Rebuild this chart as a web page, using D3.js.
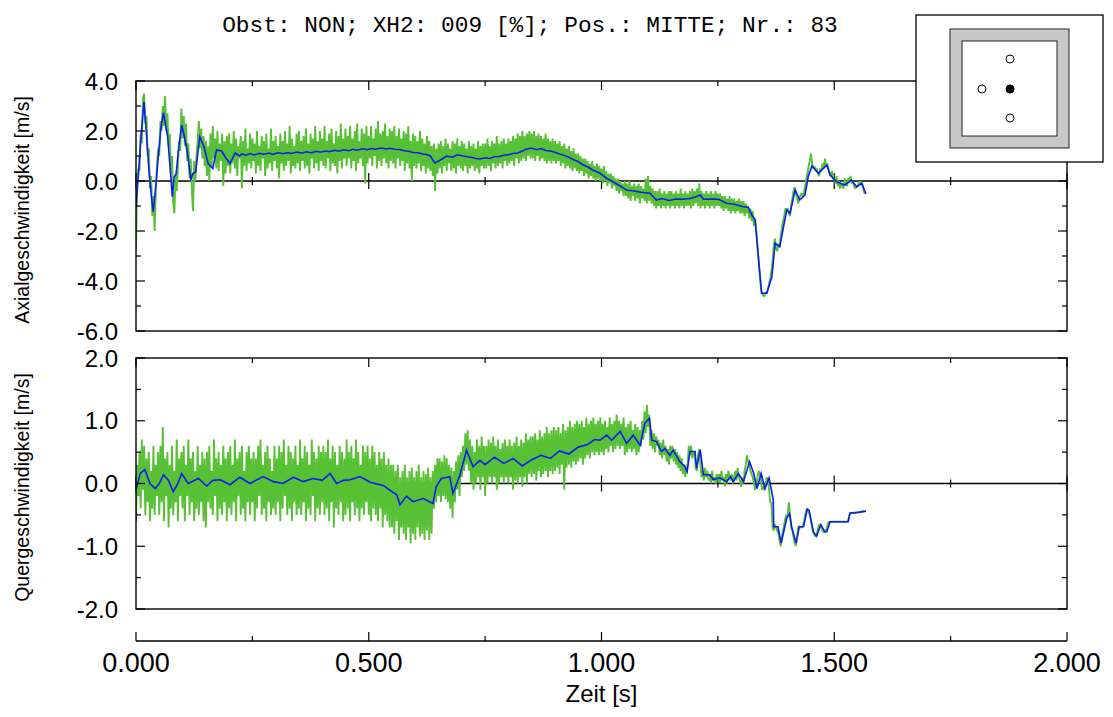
<!DOCTYPE html>
<html>
<head>
<meta charset="utf-8">
<script src="https://cdn.jsdelivr.net/npm/d3@7"></script>
<style>
  body { margin: 0; background: #fff; }
  svg { display: block; }
</style>
</head>
<body>
<svg id="chart" width="1113" height="717"></svg>
<script>
// ---- data -------------------------------------------------------------
const titleText = "Obst: NON; XH2: 009 [%]; Pos.: MITTE; Nr.: 83";
const xLabel = "Zeit [s]";
const axialLabel = "Axialgeschwindigkeit [m/s]";
const transverseLabel = "Quergeschwindigkeit [m/s]";

const sampleStep = 0.0025;          // s between raw samples
const xTickValues = [0, 0.5, 1.0, 1.5, 2.0];
const xMinorValues = [0.25, 0.75, 1.25, 1.75];
const axialTickValues = [4, 2, 0, -2, -4, -6];
const axialMinorValues = [3, 1, -1, -3, -5];
const transverseTickValues = [2, 1, 0, -1, -2];
const transverseMinorValues = [1.5, 0.5, -0.5, -1.5];

// raw axial velocity [m/s], one row per 0.05 s
const axialRaw = [
  -2.7,-0.1,0.5,0.4,1.9,1.5,3.3,3.5,2.3,2.6,1.0,1.3,-0.3,0.2,-1.4,-0.6,-2.0,-0.4,0.6,1.3,
  1.0,2.4,2.0,3.0,2.2,3.4,2.0,2.7,1.4,1.9,0.3,1.0,-0.9,-1.3,0.3,-0.4,0.6,1.6,1.2,2.9,
  1.7,2.6,1.4,2.3,0.8,1.5,0.1,0.9,-0.4,-1.2,0.8,0.0,1.0,1.6,2.4,1.3,2.1,0.9,1.8,0.6,
  1.6,0.2,1.4,0.0,1.9,0.6,2.2,0.9,1.7,0.5,2.0,0.4,1.5,0.8,1.9,-0.2,1.6,0.3,1.8,0.6,
  1.9,0.3,1.5,0.7,2.0,0.5,1.7,0.2,1.4,0.9,1.8,-0.3,1.6,0.6,2.1,0.4,1.3,0.7,1.9,0.5,
  1.7,0.8,1.5,0.3,2.0,0.6,1.4,0.4,1.8,0.9,1.6,0.2,1.9,0.5,1.3,0.7,2.1,0.4,1.6,0.8,
  1.8,0.5,1.4,0.1,1.9,0.7,1.6,0.4,2.0,0.6,1.5,0.8,2.2,0.3,1.7,0.6,1.4,0.5,1.9,0.7,
  2.0,0.4,1.6,0.8,1.8,0.5,2.1,0.6,1.5,0.3,1.9,0.9,1.7,0.5,2.2,0.7,1.6,0.4,2.0,0.8,
  1.7,0.6,2.2,0.5,1.6,0.9,1.9,0.4,2.1,0.7,1.5,0.6,2.0,0.3,1.8,0.8,2.3,0.5,1.7,0.9,
  2.1,0.6,1.8,0.9,2.2,0.5,1.7,0.8,2.0,0.4,2.3,0.7,1.6,0.9,2.1,0.6,1.9,-0.1,2.2,0.7,
  1.8,0.9,2.2,0.6,1.7,1.0,2.1,0.5,2.4,0.8,1.9,0.6,2.0,0.9,2.3,0.7,1.8,0.5,2.1,0.8,
  2.0,0.7,2.2,0.5,1.8,0.9,2.1,0.6,1.7,0.8,2.0,0.4,1.9,0.7,2.2,0.5,1.6,0.0,1.9,0.6,
  1.8,0.5,1.6,0.7,2.0,0.4,1.7,0.6,1.5,0.3,1.8,0.5,1.6,0.4,1.4,0.2,1.5,-0.4,1.3,0.3,
  1.5,0.5,1.6,0.3,1.4,0.6,1.7,0.4,1.5,0.7,1.3,0.4,1.6,0.5,1.5,0.3,1.7,0.6,1.4,0.5,
  1.6,0.4,1.5,0.6,1.3,0.3,1.6,0.5,1.4,0.6,1.5,0.4,1.3,0.5,1.6,0.3,1.4,0.6,1.5,0.5,
  1.5,0.5,1.7,0.6,1.4,0.4,1.6,0.7,1.5,0.5,1.8,0.6,1.5,0.7,1.6,0.5,1.7,0.8,1.5,0.6,
  1.7,0.7,1.6,0.8,1.8,0.6,1.7,0.9,1.9,0.7,1.8,0.8,2.0,0.9,1.8,0.8,1.9,1.0,2.0,0.9,
  1.9,0.9,2.0,0.8,1.8,1.0,1.9,0.8,1.8,0.9,1.7,0.8,1.9,0.7,1.7,0.8,1.6,0.7,1.7,0.8,
  1.6,0.7,1.5,0.8,1.6,0.6,1.4,0.7,1.5,0.5,1.3,0.6,1.4,0.5,1.2,0.4,1.3,0.5,1.1,0.4,
  1.1,0.3,1.0,0.4,0.9,0.2,0.9,0.3,0.8,0.1,0.7,0.2,0.8,0.1,0.6,0.0,0.7,0.1,0.6,0.0,
  0.5,-0.1,0.6,0.0,0.4,-0.2,0.3,-0.1,0.3,-0.3,0.2,-0.2,0.1,-0.4,0.1,-0.5,0.0,-0.4,-0.1,-0.6,
  0.0,-0.6,-0.1,-0.7,0.0,-0.8,-0.2,-0.6,-0.1,-0.8,-0.2,-0.7,-0.1,-0.9,-0.2,-0.7,-0.3,-0.8,0.1,-0.9,
  0.2,-0.8,-0.2,-0.9,-0.3,-1.0,-0.4,-1.1,-0.4,-1.0,-0.3,-1.1,-0.5,-1.0,-0.4,-1.1,-0.5,-1.0,-0.4,-1.1,
  -0.4,-1.0,-0.5,-1.1,-0.4,-1.0,-0.5,-1.1,-0.3,-1.0,-0.5,-1.1,-0.4,-1.0,-0.5,-1.0,-0.4,-1.1,-0.3,-1.0,
  -0.4,-0.9,-0.3,-1.0,-0.1,-1.1,-0.4,-1.0,-0.5,-1.1,-0.4,-1.0,-0.5,-1.1,-0.4,-1.0,-0.5,-1.1,-0.4,-1.0,
  -0.5,-1.0,-0.5,-1.1,-0.6,-1.2,-0.6,-1.1,-0.7,-1.2,-0.6,-1.3,-0.7,-1.2,-0.7,-1.3,-0.8,-1.2,-0.7,-1.3,
  -0.8,-1.3,-0.8,-1.4,-0.9,-1.3,-1.0,-1.5,-1.1,-1.6,-1.2,-1.8,-1.5,-2.0,-2.6,-3.2,-3.8,-4.3,-4.5,-4.6,
  -4.6,-4.45,-4.5,-4.35,-4.1,-3.9,-3.6,-3.2,-2.6,-2.3,-2.7,-2.8,-2.5,-2.6,-2.2,-1.9,-1.6,-1.4,-1.1,-1.2,
  -1.1,-1.3,-1.4,-1.0,-0.7,-0.4,-0.25,-0.5,-0.7,-0.9,-0.7,-0.55,-0.5,-0.65,-0.45,-0.2,0.1,0.3,0.6,0.8,
  1.1,0.7,0.5,0.6,0.4,0.5,0.3,0.2,0.5,0.4,0.7,0.5,0.9,0.6,0.7,0.5,0.3,0.2,0.4,0.1,
  0.1,-0.1,0.2,-0.2,0.0,-0.3,-0.1,-0.2,-0.3,0.1,-0.1,-0.2,0.1,0.0,0.2,-0.1,0.0,-0.2,-0.3,-0.2,
  -0.25,-0.1,0.0,-0.15,-0.1,-0.3,-0.5
];

// raw transverse velocity [m/s], one row per 0.05 s
const transverseRaw = [
  -0.6,0.3,-0.2,0.5,-0.4,0.7,-0.1,0.6,-0.5,0.4,-0.3,0.5,-0.6,0.2,-0.4,0.6,-0.5,0.3,-0.2,0.5,
  -0.5,0.6,-0.3,0.9,-0.6,0.4,-0.2,0.5,-0.7,0.3,-0.4,0.6,-0.5,0.2,-0.3,0.7,-0.6,0.4,-0.2,0.5,
  -0.4,0.6,-0.6,0.3,-0.2,0.7,-0.5,0.4,-0.3,0.5,-0.6,0.2,-0.4,0.6,-0.5,0.3,-0.3,0.5,-0.6,0.4,
  -0.7,0.5,-0.3,0.6,-0.4,0.2,-0.5,0.7,-0.2,0.4,-0.6,0.5,-0.4,0.3,-0.5,0.6,-0.3,0.4,-0.6,0.5,
  -0.4,0.6,-0.5,0.3,-0.3,0.7,-0.6,0.4,-0.2,0.5,-0.5,0.6,-0.4,0.2,-0.6,0.5,-0.3,0.6,-0.5,0.4,
  -0.3,0.5,-0.6,0.4,-0.4,0.6,-0.2,0.7,-0.5,0.3,-0.4,0.5,-0.6,0.6,-0.3,0.4,-0.5,0.2,-0.4,0.6,
  -0.5,0.4,-0.3,0.6,-0.6,0.5,-0.4,0.7,-0.2,0.3,-0.5,0.6,-0.4,0.5,-0.6,0.4,-0.3,0.6,-0.5,0.3,
  -0.4,0.7,-0.5,0.4,-0.3,0.6,-0.6,0.5,-0.4,0.3,-0.5,0.7,-0.2,0.5,-0.6,0.4,-0.4,0.6,-0.5,0.5,
  -0.3,0.6,-0.5,0.5,-0.4,0.7,-0.6,0.4,-0.3,0.6,-0.7,0.5,-0.4,0.3,-0.5,0.6,-0.3,0.5,-0.6,0.4,
  -0.5,0.7,-0.4,0.5,-0.6,0.6,-0.3,0.4,-0.5,0.7,-0.4,0.5,-0.6,0.3,-0.4,0.6,-0.5,0.5,-0.3,0.6,
  -0.5,0.4,-0.6,0.6,-0.4,0.5,-0.5,0.3,-0.6,0.5,-0.4,0.4,-0.7,0.5,-0.5,0.3,-0.6,0.4,-0.7,0.3,
  -0.7,0.3,-0.8,0.2,-0.6,0.3,-0.9,0.1,-0.7,0.2,-0.8,0.3,-0.9,0.1,-0.7,0.2,-0.95,0.25,-0.8,0.1,
  -0.9,0.2,-0.7,0.3,-0.85,0.1,-0.8,0.2,-0.9,0.15,-0.75,0.25,-0.9,0.1,-0.8,0.2,-0.4,0.3,-0.3,0.4,
  -0.2,0.4,-0.3,0.35,-0.2,0.45,-0.25,0.4,-0.3,0.3,-0.4,0.25,-0.55,0.2,-0.3,0.35,-0.1,0.45,-0.2,0.5,
  0.1,0.6,0.2,0.8,0.3,0.85,0.2,0.7,0.0,0.6,-0.1,0.5,0.0,0.7,0.1,0.6,-0.1,0.75,0.1,0.6,
  -0.2,0.6,0.0,0.7,0.1,0.65,0.0,0.75,0.1,0.6,-0.1,0.7,0.0,0.55,0.1,0.65,0.0,0.7,0.1,0.6,
  0.0,0.7,0.1,0.6,-0.1,0.65,0.05,0.75,0.0,0.6,0.1,0.7,-0.05,0.65,0.1,0.8,0.0,0.7,0.15,0.75,
  0.1,0.75,0.15,0.8,0.05,0.7,0.2,0.85,0.1,0.75,0.15,0.8,0.2,0.9,0.1,0.8,0.2,0.85,0.15,0.9,
  0.2,0.85,0.25,0.9,0.15,0.8,0.3,0.95,-0.1,0.85,0.25,0.9,0.3,1.0,0.25,0.9,0.35,0.95,0.3,1.0,
  0.35,0.95,0.4,1.0,0.3,0.9,0.4,1.05,0.45,0.95,0.4,1.0,0.5,1.05,0.45,0.95,0.5,1.0,0.45,1.05,
  0.5,0.95,0.45,1.0,0.55,0.9,0.5,1.05,0.6,0.95,0.5,1.0,0.55,1.1,0.6,1.0,0.55,0.95,0.6,1.05,
  0.45,0.9,0.5,0.95,0.55,1.0,0.5,0.85,0.55,0.95,0.45,0.9,0.5,0.85,0.6,1.0,0.7,1.15,0.8,1.25,
  0.9,1.1,0.6,0.85,0.55,0.8,0.5,0.75,0.6,0.7,0.45,0.65,0.4,0.7,0.45,0.6,0.35,0.55,0.3,0.6,
  0.4,0.6,0.35,0.55,0.3,0.5,0.25,0.45,0.2,0.4,0.15,0.3,0.1,0.25,0.3,0.6,0.45,0.6,0.4,0.5,
  0.5,0.25,0.2,0.45,0.55,0.3,0.1,0.2,0.05,0.25,0.1,0.2,0.05,0.15,0.0,0.2,0.05,0.1,0.0,0.15,
  0.05,0.15,0.0,0.2,0.05,0.1,-0.05,0.15,0.0,0.2,0.1,0.05,0.15,0.0,0.1,0.2,0.05,0.25,0.1,0.05,
  -0.05,0.1,0.0,0.2,0.3,0.45,0.35,0.3,0.2,0.15,0.1,0.0,-0.1,-0.05,0.1,0.2,0.15,0.05,-0.1,-0.05,
  -0.1,0.0,0.1,0.05,-0.1,-0.3,-0.3,-0.7,-0.75,-0.65,-0.7,-0.75,-0.8,-0.9,-1.0,-0.85,-0.75,-0.65,-0.55,-0.5,
  -0.5,-0.3,-0.5,-0.7,-0.75,-0.85,-0.95,-1.0,-0.85,-0.7,-0.68,-0.7,-0.7,-0.68,-0.6,-0.5,-0.42,-0.4,-0.45,-0.5,
  -0.6,-0.7,-0.78,-0.82,-0.85,-0.8,-0.72,-0.66,-0.65,-0.7,-0.75,-0.78,-0.77,-0.74,-0.68,-0.62,-0.61,-0.61,-0.61,-0.61,
  -0.61,-0.61,-0.61,-0.61,-0.61,-0.61,-0.61,-0.61,-0.61,-0.61,-0.61,-0.61,-0.58,-0.5,-0.47,-0.47,-0.47,-0.47,-0.47,-0.46,
  -0.46,-0.46,-0.45,-0.45,-0.45,-0.44,-0.44
];

// smoothed axial velocity: [time s, m/s]
const axialMean = [
  [0,-1.0],[0.005,0.2],[0.010,1.6],[0.017,3.17],[0.022,2.0],[0.028,0.4],[0.033,-0.6],
  [0.037,-1.23],[0.042,-0.3],[0.048,1.0],[0.054,2.2],[0.059,2.73],[0.064,2.2],[0.068,1.77],
  [0.073,0.6],[0.078,-0.63],[0.082,0.17],[0.086,0.25],[0.091,1.2],[0.098,2.24],[0.104,1.77],
  [0.110,1.2],[0.118,0.04],[0.122,0.3],[0.128,0.35],[0.137,1.77],[0.146,1.37],[0.155,0.7],
  [0.165,0.5],[0.173,1.24],[0.184,1.2],[0.192,0.95],[0.202,0.7],[0.213,1.12],[0.222,1.0],
  [0.228,1.08],[0.236,1.03],[0.245,1.1],[0.254,1.04],[0.266,1.11],[0.274,1.07],[0.286,1.12],
  [0.293,1.06],[0.305,1.13],[0.317,1.09],[0.326,1.14],[0.333,1.1],[0.347,1.16],[0.356,1.11],
  [0.366,1.17],[0.377,1.13],[0.388,1.19],[0.396,1.15],[0.407,1.2],[0.414,1.17],[0.427,1.23],
  [0.436,1.19],[0.446,1.25],[0.457,1.21],[0.466,1.27],[0.474,1.23],[0.487,1.29],[0.497,1.25],
  [0.506,1.3],[0.514,1.27],[0.527,1.32],[0.538,1.28],[0.546,1.31],[0.556,1.27],[0.566,1.26],
  [0.577,1.21],[0.586,1.19],[0.595,1.14],[0.606,1.13],[0.616,1.08],[0.625,1.06],[0.632,1.0],
  [0.642,0.72],[0.655,0.85],[0.667,1.0],[0.68,0.95],[0.69,1.05],[0.703,1.0],[0.712,0.97],
  [0.72,0.95],[0.73,0.9],[0.739,0.88],[0.75,0.93],[0.76,0.9],[0.77,0.97],[0.78,0.98],
  [0.79,1.03],[0.80,1.05],[0.81,1.1],[0.82,1.12],[0.83,1.2],[0.84,1.28],[0.85,1.32],[0.86,1.25],
  [0.87,1.3],[0.88,1.22],[0.89,1.2],[0.90,1.15],[0.91,1.08],[0.92,1.02],[0.93,0.95],[0.94,0.85],
  [0.95,0.77],[0.96,0.65],[0.97,0.57],[0.98,0.45],
  [0.997,0.31],[1.01,0.12],[1.025,-0.03],[1.04,-0.2],[1.054,-0.36],[1.07,-0.4],[1.085,-0.45],[1.104,-0.49],
  [1.118,-0.76],[1.13,-0.7],[1.145,-0.78],[1.16,-0.72],[1.175,-0.73],[1.19,-0.7],[1.2,-0.65],
  [1.212,-0.56],[1.219,-0.73],[1.235,-0.72],[1.251,-0.73],[1.269,-0.89],[1.285,-0.93],
  [1.305,-1.03],[1.315,-1.05],[1.323,-1.36],[1.33,-1.56],[1.344,-4.49],[1.355,-4.49],
  [1.366,-3.83],[1.373,-2.49],[1.383,-2.63],[1.391,-1.83],[1.398,-1.16],[1.405,-1.29],
  [1.416,-0.36],[1.426,-0.76],[1.437,-0.56],[1.444,0.17],[1.452,0.6],[1.466,0.31],
  [1.484,0.64],[1.491,0.24],[1.505,-0.03],[1.523,-0.16],[1.537,0.04],[1.548,-0.23],
  [1.559,-0.09],[1.568,-0.52]
];

// smoothed transverse velocity: [time s, m/s]
const transverseMean = [
  [0,-0.10],[0.009,0.16],[0.019,0.22],[0.030,0.0],[0.041,-0.08],[0.050,0.0],[0.059,0.14],
  [0.07,0.05],[0.080,-0.13],[0.09,0.0],[0.098,0.16],[0.112,0.0],[0.134,0.08],[0.152,-0.04],
  [0.165,0.05],[0.181,0.06],[0.202,-0.02],[0.223,0.10],[0.245,0.0],[0.273,0.11],[0.295,0.03],
  [0.316,0.0],[0.338,0.10],[0.359,0.03],[0.38,0.08],[0.40,0.05],[0.417,0.16],[0.431,0.0],
  [0.446,0.05],[0.460,0.06],[0.481,0.11],[0.503,0.02],[0.531,-0.03],[0.546,-0.11],
  [0.560,-0.18],[0.567,-0.34],[0.581,-0.20],[0.595,-0.29],[0.617,-0.24],[0.638,-0.32],
  [0.645,-0.05],[0.656,0.08],[0.674,0.11],[0.681,-0.16],[0.696,0.14],[0.710,0.53],
  [0.724,0.27],[0.739,0.37],[0.75,0.30],[0.77,0.42],[0.79,0.32],[0.81,0.40],[0.83,0.28],
  [0.85,0.38],[0.87,0.45],[0.89,0.40],[0.91,0.52],[0.93,0.47],[0.95,0.58],[0.97,0.62],
  [0.985,0.70],[0.997,0.69],[1.011,0.77],[1.022,0.69],[1.040,0.83],[1.054,0.64],[1.068,0.77],
  [1.083,0.61],[1.093,0.96],[1.103,1.04],[1.108,0.69],[1.118,0.67],[1.129,0.51],[1.136,0.56],
  [1.147,0.45],[1.154,0.53],[1.168,0.35],[1.179,0.27],[1.184,0.19],[1.190,0.51],[1.201,0.51],
  [1.204,0.24],[1.212,0.54],[1.219,0.14],[1.233,0.14],[1.240,0.06],[1.254,0.09],[1.269,0.03],
  [1.277,0.11],[1.283,0.03],[1.294,0.16],[1.305,0.03],[1.318,0.35],[1.327,0.16],[1.334,-0.08],
  [1.343,0.16],[1.351,-0.08],[1.360,0.09],[1.369,-0.26],[1.370,-0.69],[1.379,-0.69],
  [1.386,-0.95],[1.398,-0.55],[1.404,-0.48],[1.409,-0.71],[1.418,-0.95],[1.425,-0.69],
  [1.434,-0.69],[1.442,-0.41],[1.446,-0.43],[1.455,-0.77],[1.462,-0.84],[1.471,-0.66],
  [1.480,-0.77],[1.484,-0.77],[1.491,-0.61],[1.530,-0.61],[1.534,-0.47],[1.552,-0.46],
  [1.568,-0.44]
];

// ---- layout -------------------------------------------------------------
const svg = d3.select("#chart");
const plotLeft = 136, plotRight = 1067;
const rawColor = "#58c034";
const meanColor = "#0a1ef0";
const sansFont = "'Liberation Sans', Arial, Helvetica, sans-serif";

const x = d3.scaleLinear().domain([0, 2]).range([plotLeft, plotRight]);
const yAxial = d3.scaleLinear().domain([-6, 4]).range([331, 81]);
const yTrans = d3.scaleLinear().domain([-2, 2]).range([609, 358]);

const fmtY = v => d3.format(".1f")(v).replace("\u2212", "-");
const fmtX = v => d3.format(".3f")(v);

function drawPanel(id, y, raw, mean, majors, minors, label) {
  const g = svg.append("g").attr("class", "panel-" + id);
  const [yBottom, yTop] = y.range();

  g.append("clipPath").attr("id", "clip-" + id)
    .append("rect")
    .attr("x", plotLeft).attr("y", yTop)
    .attr("width", plotRight - plotLeft).attr("height", yBottom - yTop);

  // zero reference line with time ticks crossing it
  g.append("line")
    .attr("x1", plotLeft).attr("x2", plotRight)
    .attr("y1", y(0)).attr("y2", y(0))
    .attr("stroke", "#000").attr("stroke-width", 1.4);
  xTickValues.forEach(t => g.append("line")
    .attr("x1", x(t)).attr("x2", x(t))
    .attr("y1", y(0) - 8).attr("y2", y(0) + 8)
    .attr("stroke", "#000").attr("stroke-width", 1.2));
  xMinorValues.forEach(t => g.append("line")
    .attr("x1", x(t)).attr("x2", x(t))
    .attr("y1", y(0) - 4).attr("y2", y(0) + 4)
    .attr("stroke", "#000").attr("stroke-width", 1.2));

  const data = g.append("g").attr("clip-path", "url(#clip-" + id + ")");

  const rawLine = d3.line()
    .x((d, i) => x(i * sampleStep))
    .y(d => y(d));
  data.append("path")
    .datum(raw)
    .attr("d", rawLine)
    .attr("fill", "none")
    .attr("stroke", rawColor)
    .attr("stroke-width", 1.9)
    .attr("stroke-linejoin", "bevel");

  const meanLine = d3.line()
    .x(d => x(d[0]))
    .y(d => y(d[1]));
  data.append("path")
    .datum(mean)
    .attr("d", meanLine)
    .attr("fill", "none")
    .attr("stroke", meanColor)
    .attr("stroke-width", 1.6);

  // frame
  g.append("rect")
    .attr("x", plotLeft).attr("y", yTop)
    .attr("width", plotRight - plotLeft).attr("height", yBottom - yTop)
    .attr("fill", "none").attr("stroke", "#000").attr("stroke-width", 1.4);

  // value ticks, inside on both sides
  majors.forEach(v => {
    g.append("line").attr("x1", plotLeft).attr("x2", plotLeft + 9)
      .attr("y1", y(v)).attr("y2", y(v)).attr("stroke", "#000").attr("stroke-width", 1.2);
    g.append("line").attr("x1", plotRight - 9).attr("x2", plotRight)
      .attr("y1", y(v)).attr("y2", y(v)).attr("stroke", "#000").attr("stroke-width", 1.2);
  });
  minors.forEach(v => {
    g.append("line").attr("x1", plotLeft).attr("x2", plotLeft + 5)
      .attr("y1", y(v)).attr("y2", y(v)).attr("stroke", "#000").attr("stroke-width", 1.2);
    g.append("line").attr("x1", plotRight - 5).attr("x2", plotRight)
      .attr("y1", y(v)).attr("y2", y(v)).attr("stroke", "#000").attr("stroke-width", 1.2);
  });

  // time ticks hanging from the top edge
  xTickValues.forEach(t => g.append("line")
    .attr("x1", x(t)).attr("x2", x(t)).attr("y1", yTop).attr("y2", yTop + 9)
    .attr("stroke", "#000").attr("stroke-width", 1.2));
  xMinorValues.forEach(t => g.append("line")
    .attr("x1", x(t)).attr("x2", x(t)).attr("y1", yTop).attr("y2", yTop + 5)
    .attr("stroke", "#000").attr("stroke-width", 1.2));

  // value labels
  g.selectAll("text.ylab").data(majors).enter().append("text")
    .attr("class", "ylab")
    .attr("x", plotLeft - 18)
    .attr("y", d => y(d))
    .attr("dy", "0.36em")
    .attr("text-anchor", "end")
    .attr("font-family", sansFont)
    .attr("font-size", 24)
    .text(fmtY);

  g.append("text")
    .attr("transform", `translate(29,${(yTop + yBottom) / 2 + 4}) rotate(-90)`)
    .attr("text-anchor", "middle")
    .attr("font-family", sansFont)
    .attr("font-size", 19.5)
    .text(label);
}

drawPanel("axial", yAxial, axialRaw, axialMean, axialTickValues, axialMinorValues, axialLabel);
drawPanel("trans", yTrans, transverseRaw, transverseMean, transverseTickValues, transverseMinorValues, transverseLabel);

// ---- shared time axis ---------------------------------------------------
const axisY = 641;
const xa = svg.append("g");
xa.append("line").attr("x1", plotLeft).attr("x2", plotRight)
  .attr("y1", axisY).attr("y2", axisY).attr("stroke", "#000").attr("stroke-width", 1.4);
xTickValues.forEach(t => xa.append("line")
  .attr("x1", x(t)).attr("x2", x(t)).attr("y1", axisY - 9).attr("y2", axisY)
  .attr("stroke", "#000").attr("stroke-width", 1.2));
xMinorValues.forEach(t => xa.append("line")
  .attr("x1", x(t)).attr("x2", x(t)).attr("y1", axisY - 5).attr("y2", axisY)
  .attr("stroke", "#000").attr("stroke-width", 1.2));
xa.selectAll("text.xlab").data(xTickValues).enter().append("text")
  .attr("class", "xlab")
  .attr("x", d => x(d)).attr("y", 672)
  .attr("text-anchor", "middle")
  .attr("font-family", sansFont).attr("font-size", 27)
  .text(fmtX);
xa.append("text")
  .attr("x", x(1)).attr("y", 702)
  .attr("text-anchor", "middle")
  .attr("font-family", sansFont).attr("font-size", 24)
  .text(xLabel);

// ---- title --------------------------------------------------------------
svg.append("text")
  .attr("x", 530).attr("y", 32)
  .attr("text-anchor", "middle")
  .attr("font-family", "'Liberation Mono', 'DejaVu Sans Mono', monospace")
  .attr("font-size", 22.8)
  .text(titleText);

// ---- probe position sketch ----------------------------------------------
const sketch = svg.append("g");
sketch.append("rect").attr("x", 916).attr("y", 15).attr("width", 187).attr("height", 147)
  .attr("fill", "#fff").attr("stroke", "#000").attr("stroke-width", 1.3);
sketch.append("rect").attr("x", 950).attr("y", 29).attr("width", 119).attr("height", 119)
  .attr("fill", "#c8c8c8").attr("stroke", "#222").attr("stroke-width", 1);
sketch.append("rect").attr("x", 962).attr("y", 41).attr("width", 95).attr("height", 95)
  .attr("fill", "#fff").attr("stroke", "#222").attr("stroke-width", 1);
const probes = [
  { cx: 1010, cy: 59, active: false },
  { cx: 982, cy: 89, active: false },
  { cx: 1010, cy: 89, active: true },
  { cx: 1010, cy: 118, active: false }
];
sketch.selectAll("circle").data(probes).enter().append("circle")
  .attr("cx", d => d.cx).attr("cy", d => d.cy).attr("r", 4)
  .attr("fill", d => d.active ? "#000" : "#fff")
  .attr("stroke", "#000").attr("stroke-width", 1);
</script>
</body>
</html>
